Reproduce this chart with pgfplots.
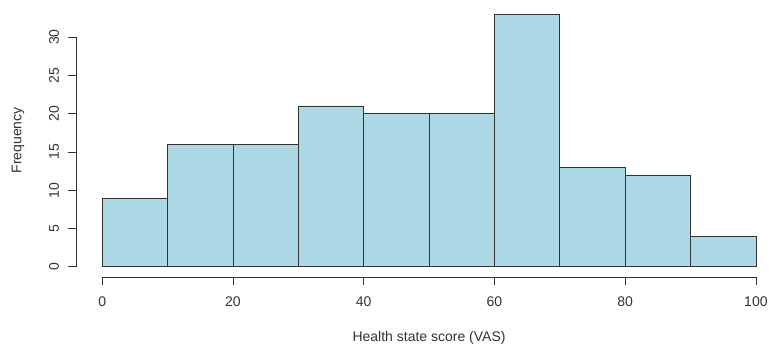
\documentclass[border=0pt]{standalone}
\usepackage{fontspec}
\setmainfont{Liberation Sans}
\usepackage{pgfplots}
\pgfplotsset{compat=1.18}
\definecolor{lightblueR}{HTML}{ADD8E6}
\definecolor{edgeR}{HTML}{333333}
\begin{document}
\begin{tikzpicture}
\begin{axis}[
  scale only axis,
  width=693pt, height=277pt,
  xmin=-4, xmax=102,
  ymin=-1.32, ymax=34.83,
  axis x line*=bottom, axis y line*=left,
  axis line style={draw=none},
  xtick={0,20,40,60,80,100},
  ytick={0,5,10,15,20,25,30},
  tick align=outside,
  major tick length=8.5pt,
  tick style={edgeR, line width=0.8pt},
  /pgf/number format/assume math mode=true,
  ticklabel style={font=\fontsize{14pt}{16pt}\selectfont, text=black!80},
  xticklabel style={anchor=north, yshift=-8pt},
  yticklabel style={rotate=90, anchor=south, yshift=5pt},
  xlabel={Health state score (VAS)},
  xlabel style={at={(axis cs:50,-1.32)}, anchor=base, yshift=-65pt, font=\fontsize{14pt}{16pt}\selectfont, text=black!80},
  ylabel={Frequency},
  ylabel style={at={(axis cs:-4,16.5)}, anchor=center, yshift=58pt, font=\fontsize{14pt}{16pt}\selectfont, text=black!80},
  clip=false,
]
\addplot[ybar interval, fill=lightblueR, draw=edgeR, line width=0.8pt]
  coordinates {(0,9) (10,16) (20,16) (30,21) (40,20) (50,20) (60,33) (70,13) (80,12) (90,4) (100,4)};
\draw[edgeR, line width=0.8pt] (axis cs:-4,0) -- (axis cs:-4,30);
\draw[edgeR, line width=0.8pt] (axis cs:0,-1.32) -- (axis cs:100,-1.32);
\coordinate (bl) at (rel axis cs:0,0);
\coordinate (tr) at (rel axis cs:1,1);
\end{axis}
\pgfresetboundingbox
\path[use as bounding box] ([shift={(-76pt,-68pt)}]bl) rectangle (tr);
\end{tikzpicture}
\end{document}
